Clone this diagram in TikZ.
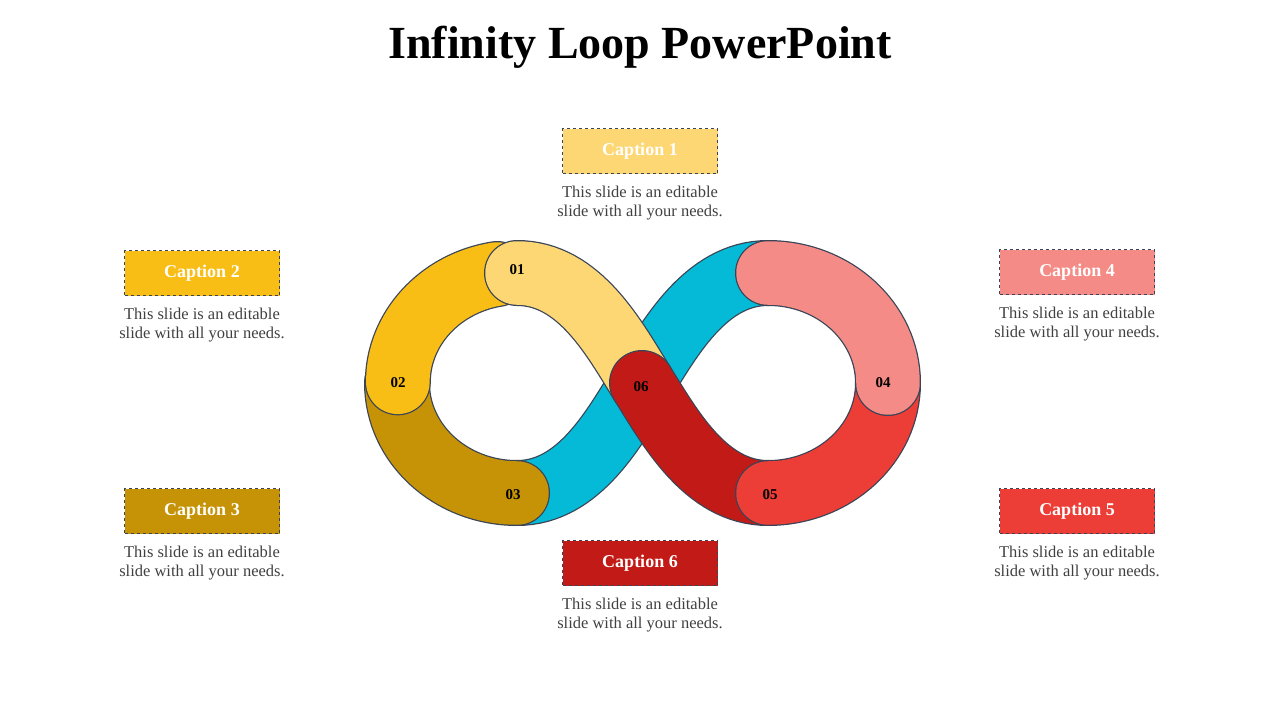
\documentclass[tikz,border=0pt]{standalone}
\usepackage{fontspec}
\setmainfont{Liberation Serif}
\usetikzlibrary{positioning,shadows}
\definecolor{capone}{HTML}{FCD774}
\definecolor{captwo}{HTML}{F9BE16}
\definecolor{capthree}{HTML}{C59305}
\definecolor{capfour}{HTML}{F48B86}
\definecolor{capfive}{HTML}{EC3D36}
\definecolor{capsix}{HTML}{C21B17}
\definecolor{loopcyan}{HTML}{04BAD6}
\definecolor{rim}{HTML}{3A4456}
\definecolor{bodygray}{HTML}{404040}
\begin{document}
\begin{tikzpicture}[x=1pt,y=-1pt]
\tikzstyle{caption}=[draw=rim,dashed,minimum width=155pt,minimum height=45pt,
text=white,font=\fontsize{18}{20}\selectfont\bfseries]
\tikzstyle{body}=[align=center,text=bodygray,font=\fontsize{16.5}{19}\selectfont]
\tikzstyle{num}=[font=\fontsize{15}{17}\selectfont\bfseries]
\tikzstyle{rimband}=[line width=66pt,draw=rim,line cap=round]
\tikzstyle{band}=[line width=63.5pt,line cap=round]

\useasboundingbox (0,0) rectangle (1280,720);
\node[font=\fontsize{46}{50}\selectfont\bfseries] (title) at (640,47) {Infinity Loop PowerPoint};

% loop points
\coordinate (cross) at (642,383);
\coordinate (ltop) at (517,273);
\coordinate (lbot) at (517,493);
\coordinate (rtop) at (768,273);
\coordinate (rbot) at (768,493);

% cyan band
\foreach \w/\c in {66/rim,63.5/loopcyan}
\draw[line width=\w pt,draw=\c,line cap=butt] (lbot) .. controls (580,493) and (615,426) .. (cross)
  .. controls (669,340) and (705,273) .. (rtop);
% 03
\foreach \s/\c in {rimband/rim,band/capthree}
\draw[\s,draw=\c] (397,383) arc[start angle=180,end angle=90,x radius=120,y radius=110];
% 02
\foreach \s/\c in {rimband/rim,band/captwo}
\draw[\s,draw=\c] (497,274) arc[start angle=260,end angle=180,x radius=120,y radius=110];
% 01
\foreach \s/\c in {rimband/rim,band/capone}
\draw[\s,draw=\c] (ltop) .. controls (580,273) and (615,340) .. (cross);
% 06
\foreach \s/\c in {rimband/rim,band/capsix}
\draw[\s,draw=\c] (cross) .. controls (669,426) and (705,493) .. (rbot);
% 05
\foreach \s/\c in {rimband/rim,band/capfive}
\draw[\s,draw=\c] (888,383) arc[start angle=0,end angle=90,x radius=120,y radius=110];
% 04
\foreach \s/\c in {rimband/rim,band/capfour}
\draw[\s,draw=\c] (rtop) arc[start angle=-90,end angle=0,x radius=120,y radius=110];

\node[num] (n1) at (517,270) {01};
\node[num] (n2) at (398,383) {02};
\node[num] (n3) at (513,495) {03};
\node[num] (n4) at (883,383) {04};
\node[num] (n5) at (770,495) {05};
\node[num] (n6) at (641,387) {06};

\node[caption,fill=capone] (c1) at (640,151) {Caption 1};
\node[caption,fill=captwo] (c2) at (202,273) {Caption 2};
\node[caption,fill=capthree] (c3) at (202,511) {Caption 3};
\node[caption,fill=capfour] (c4) at (1077,272) {Caption 4};
\node[caption,fill=capfive] (c5) at (1077,511) {Caption 5};
\node[caption,fill=capsix] (c6) at (640,563) {Caption 6};

\foreach \c in {c1,c2,c3,c4,c5,c6}
\node[body,below=9pt of \c] (t\c) {This slide is an editable\\slide with all your needs.};
\end{tikzpicture}
\end{document}
